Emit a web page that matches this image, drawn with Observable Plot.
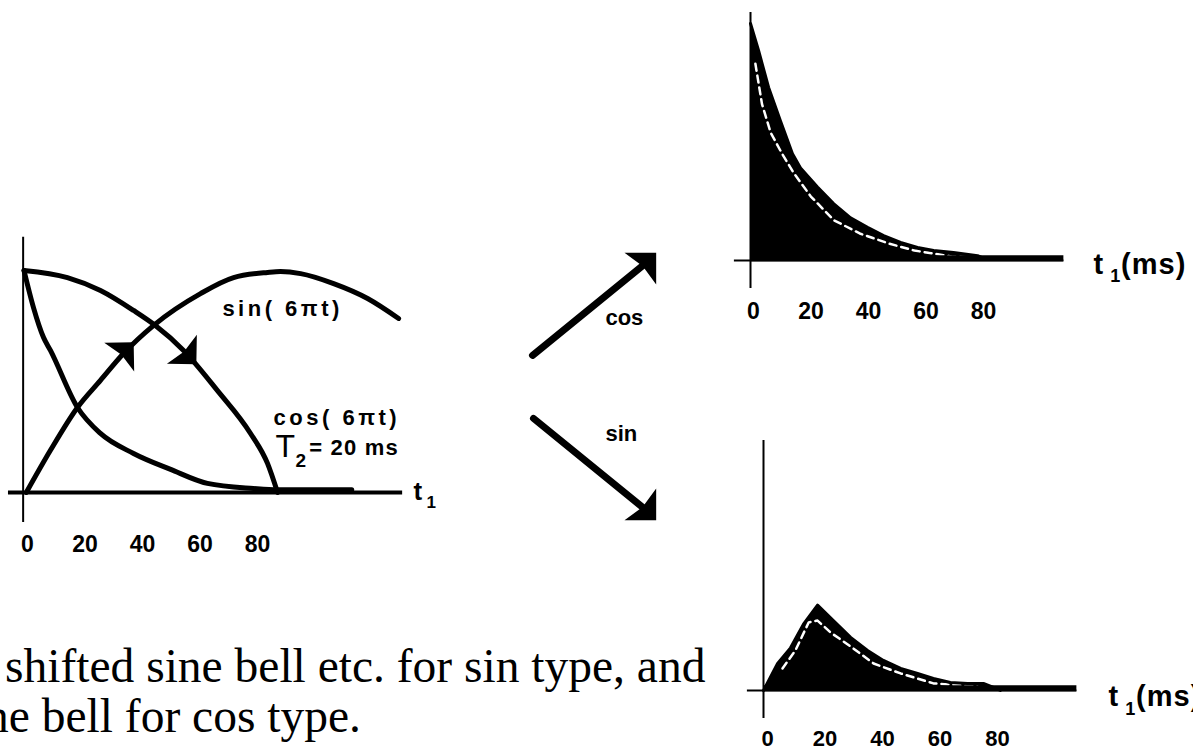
<!DOCTYPE html>
<html>
<head>
<meta charset="utf-8">
<script src="https://cdn.jsdelivr.net/npm/d3@7"></script>
<script src="https://cdn.jsdelivr.net/npm/@observablehq/plot@0.6"></script>
<style>
  html, body { margin: 0; padding: 0; background: #fff; }
  #wrap { position: relative; width: 1193px; height: 752px; overflow: hidden; background: #fff; }
  #wrap svg { position: absolute; left: 0; top: 0; }
  .cap { position: absolute; font-family: "Liberation Serif", "Times New Roman", serif; font-size: 47.5px; line-height: 1; color: #000; white-space: nowrap; }
</style>
</head>
<body>
<div id="wrap"></div>
<script>
// ---------- data (time in ms, amplitude relative) ----------
const tickValues = [0, 20, 40, 60, 80];

// left panel: modulated FID components
const cosT   = [0, 15.1, 26.6, 38.1, 45.7, 55.5, 67.3, 78.8, 84.7, 88.2];
const cosAmp = [1, 0.968, 0.91, 0.82, 0.752, 0.64, 0.459, 0.266, 0.131, 0];
const sinT   = [0.8, 9.2, 18.6, 26.6, 34.6, 45, 61.4, 72.9, 84.7, 89.2, 96.2, 107.7, 119.5, 130.3];
const sinAmp = [0, 0.19, 0.383, 0.505, 0.626, 0.752, 0.896, 0.968, 0.991, 0.995, 0.986, 0.941, 0.874, 0.784];
const decayT   = [0, 3.3, 6.8, 9.2, 18.6, 26.6, 38.1, 51, 63.8, 79.8, 88.2, 114];
const decayAmp = [1, 0.833, 0.698, 0.64, 0.383, 0.266, 0.176, 0.104, 0.041, 0.018, 0.012, 0.012];
const curveArrowT     = [35, 56.8];
const curveArrowAmp   = [0.635, 0.62];
const curveArrowAngle = [44, 136];

// right top: cos-weighted FID
const cosSpecT   = [0, 2.8, 6.3, 10.4, 14.6, 17.4, 23.3, 28.9, 34.8, 40.7, 46.3, 52.2, 58.1, 63.7, 70.6, 79, 81];
const cosSpecAmp = [1, 0.886, 0.73, 0.59, 0.45, 0.39, 0.31, 0.24, 0.18, 0.14, 0.105, 0.076, 0.055, 0.042, 0.034, 0.02, 0.01];
const cosInnerT   = [1.7, 4, 7, 11, 15, 21, 29, 38, 48, 57, 70, 79];
const cosInnerAmp = [0.83, 0.66, 0.54, 0.45, 0.37, 0.27, 0.17, 0.114, 0.072, 0.042, 0.017, 0.012];

// right bottom: sin-weighted FID
const sinSpecT   = [0, 4.9, 9.4, 13.9, 18.8, 24.3, 30.3, 36.2, 41.7, 47.7, 53.6, 59.1, 65, 71, 76.5, 80, 82.4];
const sinSpecAmp = [0, 0.114, 0.18, 0.28, 0.36, 0.295, 0.224, 0.169, 0.127, 0.093, 0.072, 0.051, 0.034, 0.03, 0.03, 0.013, 0];
const sinInnerT   = [6.6, 11.1, 15.7, 18.8, 23.3, 30.3, 38.3, 47.7, 59.1, 74.4];
const sinInnerAmp = [0.093, 0.169, 0.287, 0.295, 0.245, 0.186, 0.114, 0.072, 0.03, 0.017];

// middle arrows (unit frame)
const midNames  = ["cos", "sin"];
const midX1     = [0, 0.008];
const midY1     = [0.616, 0.381];
const midX2     = [0.925, 0.925];
const midY2     = [0.962, 0.038];
const midAngle  = [45, 135];
const midLabelX = [0.593, 0.593];
const midLabelY = [0.728, 0.2985];

const captionLines = ["shifted sine bell etc. for sin type, and", "ne bell for cos type."];

// ---------- helpers ----------
const rows = (T, A) => T.map((t, i) => ({t, a: A[i]}));
const arrowHead = {
  draw(ctx, size) {
    const r = Math.sqrt(size / Math.PI);
    ctx.moveTo(0, -r);
    ctx.lineTo(1.6 * r, 0.6 * r);
    ctx.lineTo(0, 0.35 * r);
    ctx.lineTo(-1.6 * r, 0.6 * r);
    ctx.closePath();
  }
};
const FONT = "'Liberation Sans', Arial, sans-serif";
const baseStyle = {background: "transparent", fontFamily: FONT, overflow: "hidden"};
const txt = (text, x, y, size, weight = "bold") =>
  Plot.text([text], {x: () => x, y: () => y, text: d => d, textAnchor: "start", lineAnchor: "bottom",
                     fontSize: size, fontWeight: weight, fill: "black"});
const ticksAxis = (dx, size = 23) => Plot.axisX(tickValues, {tickSize: 0, tickPadding: 2, fontSize: size, fontWeight: "bold",
                                     dx, label: null, tickFormat: d => String(d), fill: "black"});

const wrap = document.getElementById("wrap");

// ---------- left panel ----------
const pxL = 2.875;
const left = Plot.plot({
  width: 1193, height: 752, marginTop: 0, marginRight: 0, marginLeft: 0, marginBottom: 219,
  style: baseStyle,
  x: {domain: [0, 130], range: [23.5, 23.5 + 130 * pxL]},
  y: {domain: [0, 1], range: [492, 270], axis: null},
  marks: [
    Plot.ruleY([0], {x1: -5.4, x2: 131.7, strokeWidth: 4, stroke: "black"}),
    Plot.ruleX([-0.3], {y1: -0.135, y2: 1.15, strokeWidth: 2, stroke: "black"}),
    Plot.line(rows(decayT, decayAmp), {x: "t", y: "a", strokeWidth: 5, stroke: "black", curve: "monotone-x"}),
    Plot.line(rows(cosT, cosAmp), {x: "t", y: "a", strokeWidth: 5, stroke: "black", curve: "monotone-x"}),
    Plot.line(rows(sinT, sinAmp), {x: "t", y: "a", strokeWidth: 5, stroke: "black", curve: "monotone-x"}),
    Plot.dot(curveArrowT.map((t, i) => ({t, a: curveArrowAmp[i], angle: curveArrowAngle[i]})),
      {x: "t", y: "a", r: 13, symbol: arrowHead, rotate: "angle", fill: "black", stroke: "none"}),
    ticksAxis(3.5),
    txt("sin( 6πt)", 69.0, 0.797, 22),
    txt("cos( 6πt)", 86.8, 0.306, 22),
    txt("T", 87.5, 0.158, 32, "normal"),
    txt("2", 94.4, 0.117, 19),
    txt("= 20 ms", 99.2, 0.167, 22),
    txt("t", 135.5, -0.036, 26),
    txt("1", 140.0, -0.072, 17)
  ]
});
d3.select(left).selectAll("text").filter(function () { return /6πt/.test(this.textContent); })
  .style("letter-spacing", "3.5px");
d3.select(left).selectAll("text").filter(function () { return /20 ms/.test(this.textContent); })
  .style("letter-spacing", "1.2px");
wrap.appendChild(left);

// ---------- middle arrows ----------
const middle = Plot.plot({
  width: 1193, height: 752, margin: 0, style: baseStyle,
  x: {domain: [0, 1], range: [532, 655], axis: null},
  y: {domain: [0, 1], range: [520, 252], axis: null},
  marks: [
    Plot.link(midNames.map((n, i) => i), {x1: i => midX1[i], y1: i => midY1[i], x2: i => midX2[i], y2: i => midY2[i],
      stroke: "black", strokeWidth: 7, strokeLinecap: "round"}),
    Plot.dot(midNames.map((n, i) => i), {x: i => midX2[i], y: i => midY2[i], rotate: i => midAngle[i],
      r: 14, symbol: arrowHead, fill: "black", stroke: "none"}),
    Plot.text(midNames.map((n, i) => i), {x: i => midLabelX[i], y: i => midLabelY[i], text: i => midNames[i],
      textAnchor: "start", lineAnchor: "bottom", fontSize: 22, fontWeight: "bold", fill: "black"})
  ]
});
wrap.appendChild(middle);

// ---------- right panels ----------
function specPanel({t0, base, top, frameBottom, tickSize, data, inner, label}) {
  return Plot.plot({
    width: 1193, height: 752, marginTop: 0, marginRight: 0, marginLeft: 0, marginBottom: 752 - frameBottom,
    style: baseStyle,
    x: {domain: [0, 110], range: [t0, t0 + 110 * pxL]},
    y: {domain: [0, 1], range: [base, top], axis: null},
    marks: [
      Plot.areaY(data, {x: "t", y: "a", fill: "black"}),
      Plot.line(inner, {x: "t", y: "a", stroke: "white", strokeWidth: 2.5, strokeDasharray: "7,5"}),
      Plot.line(data, {x: "t", y: "a", stroke: "black", strokeWidth: 3}),
      Plot.ruleY([0], {x1: -5.6, x2: 109, strokeWidth: 2, stroke: "black"}),
      Plot.ruleY([0.01], {x1: 0, x2: 109, strokeWidth: 6, stroke: "black"}),
      Plot.ruleX([0], {y1: label.yMin, y2: label.yMax, strokeWidth: 2, stroke: "black"}),
      ticksAxis(label.dx, tickSize),
      txt("t", label.x, label.y, 29),
      txt("1", label.x + 5.8, label.y - 0.036, 18),
      txt("(ms)", label.x + 9.6, label.y, 29)
    ]
  });
}
const topPanel = specPanel({
  t0: 750, base: 260, top: 23, frameBottom: 300, tickSize: 23,
  data: rows(cosSpecT, cosSpecAmp), inner: rows(cosInnerT, cosInnerAmp),
  label: {x: 119.3, y: -0.055, yMin: -0.118, yMax: 1.046, dx: 3}
});
const bottomPanel = specPanel({
  t0: 763, base: 690, top: 453, frameBottom: 728, tickSize: 22,
  data: rows(sinSpecT, sinSpecAmp), inner: rows(sinInnerT, sinInnerAmp),
  label: {x: 120, y: -0.0675, yMin: -0.118, yMax: 1.055, dx: 4}
});
[topPanel, bottomPanel].forEach(p => {
  d3.select(p).selectAll("text").filter(function () { return /ms/.test(this.textContent); })
    .style("letter-spacing", "1px");
  wrap.appendChild(p);
});

// ---------- caption ----------
const capPos = [[5, 643], [-15, 693]];
captionLines.forEach((line, i) => {
  const d = document.createElement("div");
  d.className = "cap";
  d.style.left = capPos[i][0] + "px";
  d.style.top = capPos[i][1] + "px";
  d.textContent = line;
  wrap.appendChild(d);
});
</script>
</body>
</html>
